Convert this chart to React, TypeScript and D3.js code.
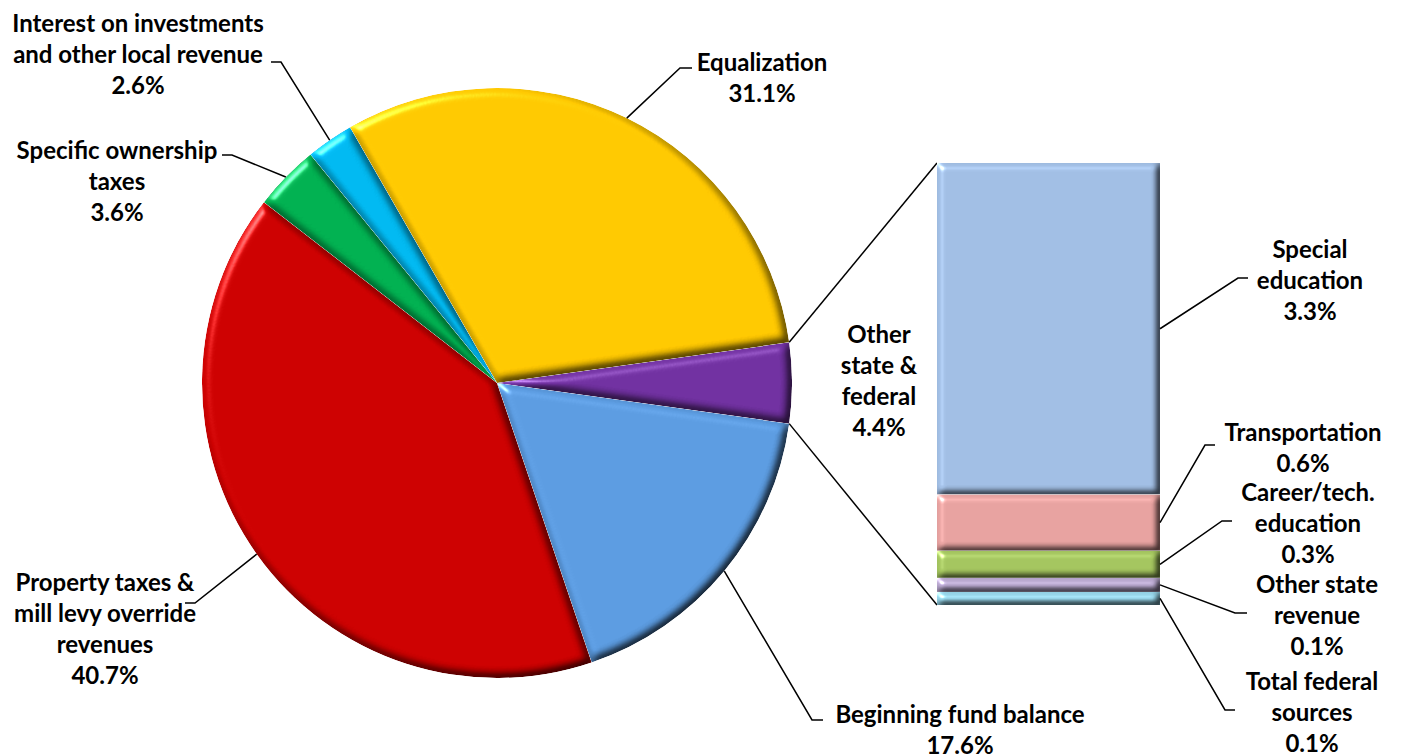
import * as React from "react";
import { pie as d3Pie, arc as d3Arc, scaleLinear, sum } from "d3";

// main pie: order runs clockwise, starting at the split-off slice
const pieLabels = [
  "Other state & federal",
  "Beginning fund balance",
  "Property taxes & mill levy override revenues",
  "Specific ownership taxes",
  "Interest on investments and other local revenue",
  "Equalization",
];
const pieValues = [4.4, 17.6, 40.7, 3.6, 2.6, 31.1];
const pieColors = ["#7030A0", "#5B9BE0", "#CC0000", "#00B050", "#00B8F0", "#FFC800"];

// secondary bar, top to bottom
const barLabels = [
  "Special education",
  "Transportation",
  "Career/tech. education",
  "Other state revenue",
  "Total federal sources",
];
const barValues = [3.3, 0.56, 0.27, 0.14, 0.13];
const barColors = ["#A0BDE3", "#E6A19F", "#A3C45E", "#B6A5CC", "#94D2E6"];

// label layout: text lines, centre x, first line y, leader elbow + end
interface labelLayout {
  lines: string[];
  cx: number;
  y: number;
  leader?: [number, number, number, number];
}

const pieLayout: labelLayout[] = [
  { lines: ["Other", "state &", "federal"], cx: 879, y: 333 },
  { lines: ["Beginning fund balance"], cx: 960, y: 713, leader: [812, 720, 823, 720] },
  { lines: ["Property taxes &", "mill levy override", "revenues"], cx: 105, y: 581, leader: [195, 603, 185, 603] },
  { lines: ["Specific ownership", "taxes"], cx: 117, y: 149, leader: [232, 155, 222, 155] },
  { lines: ["Interest on investments", "and other local revenue"], cx: 138, y: 22, leader: [281, 62, 271, 62] },
  { lines: ["Equalization"], cx: 762, y: 61, leader: [680, 68, 692, 68] },
];

const barLayout: labelLayout[] = [
  { lines: ["Special", "education"], cx: 1310, y: 248, leader: [1238, 278, 1248, 278] },
  { lines: ["Transportation"], cx: 1303, y: 431, leader: [1205, 445, 1215, 445] },
  { lines: ["Career/tech.", "education"], cx: 1308, y: 491, leader: [1222, 521, 1232, 521] },
  { lines: ["Other state", "revenue"], cx: 1317, y: 583, leader: [1235, 613, 1247, 613] },
  { lines: ["Total federal", "sources"], cx: 1312, y: 680, leader: [1225, 710, 1235, 710] },
];

const W = 1405;
const H = 755;
const cx = 497;
const cy = 383;
const R = 295;
const lineH = 31;

const Label = ({ lines, cx, y }: { lines: string[]; cx: number; y: number }) => (
  <text
    x={cx}
    y={y}
    textAnchor="middle"
    dominantBaseline="central"
    fontFamily="Lato, 'Open Sans', sans-serif"
    fontWeight="bold"
    fontSize={24}
    fill="#000"
  >
    {lines.map((l, i) => (
      <tspan key={i} x={cx} y={y + i * lineH}>
        {l}
      </tspan>
    ))}
  </text>
);

const Bevel = ({ id, blur, scale }: { id: string; blur: number; scale: number }) => (
  <filter id={id} x="-5%" y="-5%" width="110%" height="110%" colorInterpolationFilters="sRGB">
    <feGaussianBlur in="SourceAlpha" stdDeviation={blur} result="blur" />
    <feDiffuseLighting in="blur" surfaceScale={scale} diffuseConstant={1.155} lightingColor="#fff" result="diff">
      <feDistantLight azimuth={225} elevation={60} />
    </feDiffuseLighting>
    <feSpecularLighting in="blur" surfaceScale={scale} specularConstant={1} specularExponent={30} lightingColor="#fff" result="spec">
      <feDistantLight azimuth={225} elevation={30} />
    </feSpecularLighting>
    <feComposite in="SourceGraphic" in2="diff" operator="arithmetic" k1={1} k2={0} k3={0} k4={0} result="shaded" />
    <feComposite in="spec" in2="SourceAlpha" operator="in" result="specIn" />
    <feComposite in="shaded" in2="specIn" operator="arithmetic" k1={0} k2={1} k3={0.55} k4={0} result="lit" />
    <feComposite in="lit" in2="SourceAlpha" operator="in" />
  </filter>
);

const App = () => {
  const total = sum(pieValues);
  const span = (pieValues[0] / total) * 2 * Math.PI;
  const start = Math.PI / 2 - span / 2;
  const arcs = d3Pie<number>()
    .sort(null)
    .startAngle(start)
    .endAngle(start + 2 * Math.PI)(pieValues);
  const arcGen = d3Arc<any>().innerRadius(0).outerRadius(R);
  const onEdge = (a: number): [number, number] => [cx + R * Math.sin(a), cy - R * Math.cos(a)];

  const barX0 = 937;
  const barX1 = 1160;
  const y = scaleLinear().domain([0, sum(barValues)]).range([163, 605]);
  let acc = 0;
  const segs = barValues.map((v) => {
    const s = { y0: y(acc), y1: y(acc + v) };
    acc += v;
    return s;
  });

  const pA = onEdge(arcs[0].startAngle);
  const pB = onEdge(arcs[0].endAngle);

  return (
    <svg width={W} height={H} style={{ position: "absolute", left: 0, top: 0, background: "#fff" }}>
      <defs>
        <Bevel id="bevelPie" blur={5} scale={6} />
        <Bevel id="bevelBar" blur={3.5} scale={5} />
      </defs>

      {/* connector lines pie -> bar */}
      <line x1={pA[0]} y1={pA[1]} x2={barX0} y2={y(0)} stroke="#000" strokeWidth={1.5} />
      <line x1={pB[0]} y1={pB[1]} x2={barX0} y2={y(sum(barValues))} stroke="#000" strokeWidth={1.5} />

      <g transform={`translate(${cx},${cy})`}>
        {arcs.map((a, i) => (
          <path key={i} d={arcGen(a) as string} fill={pieColors[i]} filter="url(#bevelPie)" />
        ))}
      </g>

      {segs.map((s, i) => (
        <rect
          key={i}
          x={barX0}
          y={s.y0}
          width={barX1 - barX0}
          height={s.y1 - s.y0}
          fill={barColors[i]}
          filter="url(#bevelBar)"
        />
      ))}

      {/* pie labels + leaders */}
      {arcs.map((a, i) => {
        const lay = pieLayout[i];
        const mid = (a.startAngle + a.endAngle) / 2;
        const p = onEdge(mid);
        return (
          <g key={i}>
            {lay.leader && (
              <polyline
                points={`${p[0]},${p[1]} ${lay.leader[0]},${lay.leader[1]} ${lay.leader[2]},${lay.leader[3]}`}
                fill="none"
                stroke="#000"
                strokeWidth={1.5}
              />
            )}
            <Label
              lines={[...lay.lines, `${pieValues[i].toFixed(1)}%`]}
              cx={lay.cx}
              y={lay.y}
            />
          </g>
        );
      })}

      {/* bar labels + leaders */}
      {segs.map((s, i) => {
        const lay = barLayout[i];
        const my = (s.y0 + s.y1) / 2;
        return (
          <g key={i}>
            {lay.leader && (
              <polyline
                points={`${barX1},${my} ${lay.leader[0]},${lay.leader[1]} ${lay.leader[2]},${lay.leader[3]}`}
                fill="none"
                stroke="#000"
                strokeWidth={1.5}
              />
            )}
            <Label lines={[...lay.lines, `${barValues[i].toFixed(1)}%`]} cx={lay.cx} y={lay.y} />
          </g>
        );
      })}
    </svg>
  );
};

export default App;
